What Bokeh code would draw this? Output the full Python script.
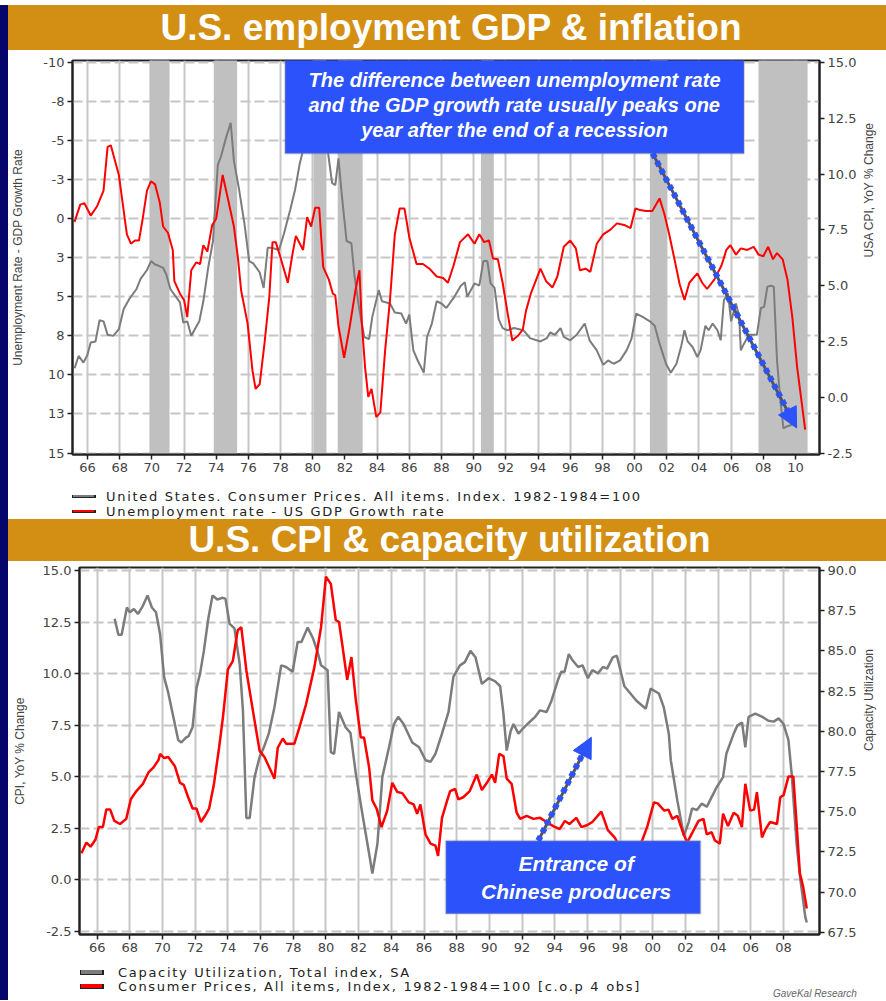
import math
from bokeh.plotting import figure
from bokeh.models import (Range1d, LinearAxis, FixedTicker, BoxAnnotation, Label,
                          Arrow, NormalHead, Div)
from bokeh.layouts import column, row
from bokeh.embed import file_html
from bokeh.resources import INLINE

# ---------------- data: top chart ----------------
recession_start = [1969.85, 1973.85, 1980.05, 1981.55, 1990.45, 2000.95, 2007.7]
recession_end = [1971.1, 1975.3, 1980.85, 1983.1, 1991.25, 2002.0, 2010.75]

gap_years = [1965.2, 1965.55, 1965.8, 1966.2, 1966.6, 1967.0, 1967.25, 1967.45, 1967.95, 1968.45,
             1968.7, 1968.95, 1969.2, 1969.4, 1969.7, 1969.95, 1970.2, 1970.5, 1970.7, 1971.0,
             1971.3, 1971.4, 1971.75, 1972.0, 1972.2, 1972.45, 1972.75, 1973.0, 1973.2, 1973.45,
             1973.75, 1974.0, 1974.4, 1974.7, 1975.1, 1975.35, 1975.55, 1975.95, 1976.25, 1976.45,
             1976.7, 1977.0, 1977.3, 1977.5, 1977.7, 1978.0, 1978.45, 1978.75, 1978.95, 1979.4,
             1979.65, 1979.9, 1980.15, 1980.4, 1980.65, 1981.0, 1981.25, 1981.4, 1981.6, 1981.95,
             1982.3, 1982.65, 1982.9, 1983.05, 1983.25, 1983.45, 1983.65, 1983.95, 1984.2, 1984.5,
             1984.8, 1985.1, 1985.4, 1985.7, 1986.0, 1986.45, 1986.85, 1987.25, 1987.7, 1988.1,
             1988.4, 1988.75, 1989.15, 1989.65, 1990.05, 1990.35, 1990.65, 1990.95, 1991.2, 1991.5,
             1991.8, 1992.1, 1992.4, 1992.75, 1993.05, 1993.25, 1993.55, 1994.15, 1994.5, 1994.9,
             1995.2, 1995.6, 1996.0, 1996.35, 1996.6, 1996.95, 1997.25, 1997.65, 1998.05, 1998.5,
             1998.9, 1999.35, 1999.75, 2000.05, 2000.35, 2000.7, 2001.1, 2001.55, 2001.85, 2002.15,
             2002.5, 2002.8, 2003.1, 2003.4, 2003.9, 2004.2, 2004.5, 2004.95, 2005.4, 2005.7,
             2005.95, 2006.3, 2006.6, 2007.0, 2007.4, 2007.7, 2008.0, 2008.3, 2008.6, 2008.85,
             2009.2, 2009.5, 2009.8, 2010.1, 2010.6]
gap_values = [0.2, -0.9, -1.0, -0.2, -0.8, -1.8, -4.6, -4.7, -2.8, 1.0,
              1.6, 1.4, 1.4, 0.2, -1.8, -2.4, -2.2, -1.0, 0.5, 0.9,
              2.0, 4.0, 4.8, 5.2, 6.3, 3.3, 2.8, 2.9, 1.7, 2.1,
              0.4, 0.0, -2.8, -1.4, 0.5, 2.5, 4.6, 6.7, 9.7, 10.9,
              10.6, 8.0, 5.0, 1.5, 1.5, 2.5, 4.1, 2.2, 1.1, 2.0,
              -0.1, 0.5, -0.7, -0.7, 3.1, 3.9, 4.8, 4.9, 6.9, 8.9,
              6.9, 4.6, 3.3, 6.7, 9.5, 11.4, 10.9, 12.7, 12.4, 8.4,
              5.2, 1.0, -0.65, -0.65, 1.2, 2.9, 2.9, 3.2, 3.7, 3.8,
              4.1, 3.0, 1.5, 1.0, 1.6, 1.0, 1.5, 1.4, 2.55, 2.6,
              4.1, 6.0, 7.8, 7.5, 7.1, 5.9, 4.8, 3.2, 4.0, 4.4,
              3.7, 1.8, 1.4, 1.9, 3.3, 3.2, 3.4, 1.6, 1.0, 0.7,
              0.3, 0.4, 0.6, -0.65, -0.55, -0.5, -0.5, -1.3, -0.3, 1.0,
              2.7, 4.2, 5.2, 4.1, 3.5, 4.1, 4.5, 3.9, 3.0, 2.0,
              1.7, 2.3, 1.9, 2.0, 1.8, 2.3, 2.4, 1.8, 2.6, 2.2,
              2.6, 3.9, 6.3, 9.5, 13.5]

cpi_top_years = [1965.2, 1965.45, 1965.75, 1966.0, 1966.2, 1966.5, 1966.75, 1967.0, 1967.25, 1967.6,
                 1967.95, 1968.25, 1968.6, 1969.05, 1969.3, 1969.7, 1969.95, 1970.2, 1970.4, 1970.7,
                 1970.9, 1971.15, 1971.4, 1971.75, 1971.95, 1972.2, 1972.45, 1972.95, 1973.2, 1973.5,
                 1973.8, 1974.1, 1974.3, 1974.6, 1974.9, 1975.1, 1975.4, 1975.75, 1976.05, 1976.3,
                 1976.7, 1976.95, 1977.2, 1977.45, 1977.9, 1978.2, 1978.6, 1978.9, 1979.2, 1979.45,
                 1979.8, 1980.2, 1980.5, 1980.85, 1981.2, 1981.4, 1981.6, 1981.8, 1982.1, 1982.4,
                 1982.6, 1982.9, 1983.2, 1983.5, 1983.7, 1984.1, 1984.3, 1984.8, 1985.1, 1985.5,
                 1985.8, 1986.0, 1986.25, 1986.55, 1986.9, 1987.1, 1987.4, 1987.7, 1988.0, 1988.3,
                 1988.8, 1989.2, 1989.45, 1989.6, 1990.05, 1990.35, 1990.6, 1990.85, 1991.05, 1991.3,
                 1991.55, 1991.8, 1992.1, 1992.5, 1993.1, 1993.5, 1994.15, 1994.55, 1994.75, 1995.05,
                 1995.4, 1995.6, 1996.0, 1996.4, 1996.9, 1997.2, 1997.65, 1998.05, 1998.35, 1998.7,
                 1999.1, 1999.5, 1999.8, 2000.1, 2000.5, 2000.95, 2001.25, 2001.55, 2001.95, 2002.25,
                 2002.6, 2002.9, 2003.1, 2003.3, 2003.6, 2003.9, 2004.1, 2004.4, 2004.6, 2004.85,
                 2005.15, 2005.35, 2005.55, 2005.8, 2006.0, 2006.3, 2006.5, 2006.6, 2006.8, 2007.1,
                 2007.6, 2007.85, 2008.05, 2008.25, 2008.45, 2008.65, 2008.85, 2009.05, 2009.25, 2009.5,
                 2009.9]
cpi_top_values = [1.3, 1.85, 1.55, 1.9, 2.45, 2.5, 3.45, 3.4, 2.8, 2.75,
                  3.05, 3.95, 4.4, 4.85, 5.3, 5.7, 6.1, 5.95, 5.9, 5.8,
                  5.5, 4.85, 4.6, 4.25, 3.35, 3.4, 2.75, 3.4, 4.3, 5.8,
                  7.0, 10.4, 10.8, 11.6, 12.3, 10.6, 9.4, 7.8, 6.1, 6.0,
                  5.6, 4.9, 6.7, 6.7, 6.6, 7.3, 8.4, 9.3, 10.5, 11.2,
                  12.8, 14.6, 13.3, 11.5, 9.6, 9.5, 10.7, 9.1, 7.0, 6.9,
                  5.4, 3.9, 2.7, 2.6, 3.6, 4.8, 4.3, 4.2, 3.8, 3.75,
                  3.3, 3.7, 2.1, 1.6, 1.1, 2.7, 3.3, 4.3, 4.2, 4.0,
                  4.5, 5.0, 5.15, 4.5, 5.1, 5.0, 6.1, 6.1, 5.1, 4.9,
                  3.5, 3.1, 3.0, 3.1, 3.0, 2.65, 2.5, 2.65, 2.9, 2.8,
                  3.1, 2.7, 2.55, 2.8, 3.3, 2.55, 2.1, 1.45, 1.65, 1.5,
                  1.65, 2.1, 2.6, 3.75, 3.6, 3.4, 3.2, 2.4, 1.5, 1.1,
                  1.5, 2.3, 3.0, 2.5, 2.25, 1.8, 2.1, 3.2, 3.0, 3.3,
                  3.0, 2.55, 4.35, 4.65, 3.4, 4.2, 3.6, 2.1, 2.4, 2.8,
                  2.8, 4.0, 4.05, 4.95, 5.0, 4.95, 1.65, -0.1, -1.4, -1.3,
                  -1.2]

# ---------------- data: bottom chart ----------------
cpi_bot_years = [1965.04, 1965.34, 1965.6, 1965.9, 1966.1, 1966.35, 1966.56, 1966.8, 1967.05, 1967.4,
                 1967.78, 1968.06, 1968.4, 1968.8, 1969.14, 1969.45, 1969.75, 1969.85, 1970.1, 1970.35,
                 1970.76, 1971.07, 1971.3, 1971.57, 1971.84, 1972.08, 1972.35, 1972.6, 1972.85, 1973.14,
                 1973.46, 1973.7, 1974.0, 1974.3, 1974.6, 1974.82, 1975.13, 1975.53, 1975.94, 1976.24,
                 1976.85, 1977.05, 1977.36, 1977.56, 1978.07, 1978.38, 1978.78, 1979.29, 1979.7, 1980.0,
                 1980.3, 1980.6, 1980.8, 1981.0, 1981.3, 1981.56, 1981.83, 1982.13, 1982.33, 1982.64,
                 1982.84, 1983.1, 1983.4, 1983.75, 1984.06, 1984.37, 1984.67, 1985.07, 1985.37, 1985.58,
                 1985.78, 1986.09, 1986.4, 1986.7, 1986.86, 1987.1, 1987.4, 1987.6, 1987.9, 1988.1,
                 1988.4, 1988.8, 1989.23, 1989.54, 1989.85, 1990.15, 1990.35, 1990.6, 1990.86, 1991.06,
                 1991.36, 1991.67, 1991.88, 1992.28, 1992.7, 1993.1, 1993.5, 1993.9, 1994.3, 1994.62,
                 1994.9, 1995.32, 1995.63, 1996.0, 1996.3, 1996.85, 1997.25, 1997.66, 1998.0, 1998.4,
                 1998.8, 1999.1, 1999.35, 1999.67, 2000.07, 2000.3, 2000.7, 2000.95, 2001.2, 2001.5,
                 2001.84, 2002.1, 2002.5, 2002.8, 2003.1, 2003.3, 2003.6, 2003.8, 2004.1, 2004.3,
                 2004.6, 2004.95, 2005.2, 2005.45, 2005.66, 2005.96, 2006.2, 2006.37, 2006.68, 2006.9,
                 2007.18, 2007.6, 2007.8, 2008.0, 2008.3, 2008.6, 2008.8, 2009.0, 2009.2, 2009.42]
cpi_bot_values = [1.28, 1.8, 1.6, 1.95, 2.55, 2.55, 3.4, 3.4, 2.85, 2.7,
                  2.95, 3.9, 4.3, 4.65, 5.2, 5.45, 5.8, 6.1, 5.9, 5.95,
                  5.5, 4.7, 4.6, 4.0, 3.45, 3.45, 2.8, 3.1, 3.45, 4.6,
                  6.4, 7.9, 10.2, 10.6, 12.1, 12.25, 10.15, 8.2, 6.25, 5.95,
                  4.9, 6.4, 6.85, 6.6, 6.6, 7.4, 8.5, 10.3, 12.25, 14.7,
                  14.35, 12.6, 12.5, 11.4, 9.7, 10.8, 8.7, 6.9, 6.9, 5.45,
                  3.85, 3.45, 2.55, 3.35, 4.7, 4.25, 4.2, 3.75, 3.65, 3.2,
                  3.65, 2.2, 1.75, 1.65, 1.15, 3.0, 3.8, 4.3, 4.4, 3.9,
                  4.0, 4.3, 5.1, 4.35, 4.7, 5.1, 4.7, 6.1, 6.0, 4.9,
                  4.65, 3.25, 2.95, 3.1, 2.95, 3.0, 2.8, 2.6, 2.45, 2.85,
                  2.7, 3.0, 2.55, 2.65, 2.8, 3.3, 2.4, 2.05, 1.6, 1.55,
                  1.6, 1.7, 1.9, 2.6, 3.75, 3.7, 3.35, 3.4, 2.95, 3.1,
                  2.3, 1.8, 2.4, 2.85, 2.95, 2.2, 2.3, 1.9, 1.75, 3.2,
                  2.6, 3.25, 3.1, 2.55, 4.65, 3.35, 3.4, 4.25, 2.05, 2.45,
                  2.8, 2.7, 4.0, 4.1, 5.0, 5.0, 2.7, 0.3, -0.35, -1.4]

cu_years = [1967.07, 1967.3, 1967.5, 1967.82, 1968.0, 1968.25, 1968.5, 1968.8, 1969.08, 1969.35,
            1969.6, 1969.85, 1970.1, 1970.35, 1970.66, 1970.96, 1971.15, 1971.43, 1971.6, 1971.84,
            1972.08, 1972.3, 1972.53, 1972.8, 1973.06, 1973.35, 1973.65, 1973.85, 1974.1, 1974.4,
            1974.72, 1974.92, 1975.13, 1975.33, 1975.63, 1975.94, 1976.2, 1976.5, 1976.85, 1977.26,
            1977.56, 1977.96, 1978.27, 1978.5, 1978.88, 1979.2, 1979.5, 1979.7, 1980.1, 1980.3,
            1980.5, 1980.8, 1981.2, 1981.5, 1981.83, 1982.23, 1982.64, 1982.84, 1983.15, 1983.45,
            1983.86, 1984.16, 1984.42, 1984.75, 1985.28, 1985.7, 1986.1, 1986.4, 1986.7, 1987.1,
            1987.5, 1987.8, 1988.2, 1988.5, 1988.84, 1989.15, 1989.54, 1989.95, 1990.36, 1990.66,
            1990.86, 1991.06, 1991.3, 1991.47, 1991.78, 1992.08, 1992.38, 1992.8, 1993.1, 1993.5,
            1993.8, 1994.2, 1994.4, 1994.6, 1994.86, 1995.1, 1995.43, 1995.7, 1996.03, 1996.3,
            1996.64, 1996.95, 1997.2, 1997.55, 1997.8, 1998.26, 1998.67, 1999.0, 1999.57, 1999.87,
            2000.37, 2000.67, 2000.98, 2001.1, 2001.5, 2001.9, 2002.2, 2002.4, 2002.7, 2003.0,
            2003.3, 2003.6, 2003.9, 2004.3, 2004.5, 2004.95, 2005.17, 2005.46, 2005.66, 2005.86,
            2006.27, 2006.7, 2007.07, 2007.4, 2007.7, 2008.0, 2008.3, 2008.5, 2008.8, 2009.0,
            2009.33, 2009.42]
cu_values = [87.0, 86.0, 86.0, 87.7, 87.4, 87.6, 87.3, 87.8, 88.45, 87.7,
             87.4, 86.05, 83.35, 82.4, 80.9, 79.45, 79.3, 79.6, 79.7, 80.25,
             82.7, 83.6, 85.0, 87.0, 88.45, 88.2, 88.3, 88.25, 86.7, 86.4,
             84.2, 81.3, 74.6, 74.6, 77.15, 78.4, 79.0, 79.85, 81.5, 84.1,
             84.0, 83.7, 85.55, 85.55, 86.45, 85.8, 84.9, 84.1, 83.8, 78.7,
             78.6, 81.2, 80.25, 79.9, 77.35, 74.85, 72.4, 71.15, 73.0, 77.15,
             79.0, 80.45, 80.9, 80.45, 79.3, 79.0, 78.2, 78.1, 78.6, 79.85,
             81.2, 83.4, 84.1, 84.3, 85.0, 84.6, 82.95, 83.3, 83.1, 82.8,
             81.1, 78.8, 80.0, 80.45, 79.85, 80.2, 80.5, 80.9, 81.3, 81.2,
             81.9, 83.2, 83.7, 83.7, 84.8, 84.4, 84.0, 84.1, 83.3, 83.8,
             83.6, 84.0, 83.9, 84.6, 84.7, 82.8, 82.3, 81.9, 81.4, 82.65,
             82.35, 81.5, 79.85, 78.2, 75.7, 73.5, 74.35, 75.2, 75.1, 75.5,
             75.3, 75.9, 76.5, 77.15, 78.6, 79.85, 80.35, 80.55, 79.0, 80.9,
             81.1, 80.9, 80.65, 80.6, 80.8, 80.45, 79.45, 77.3, 73.0, 71.0,
             68.45, 68.1]

# ---------------- tick labels ----------------
top_x_ticks = list(range(1966, 2011, 2))
bot_x_ticks = list(range(1966, 2009, 2))
top_left_ticks = [-10, -7.5, -5, -2.5, 0, 2.5, 5, 7.5, 10, 12.5, 15]
top_left_labels = ["-10", "-8", "-5", "-3", "0", "3", "5", "8", "10", "13", "15"]
top_right_ticks = [-2.5, 0, 2.5, 5, 7.5, 10, 12.5, 15]
bot_left_ticks = [-2.5, 0, 2.5, 5, 7.5, 10, 12.5, 15]
bot_right_ticks = [67.5, 70, 72.5, 75, 77.5, 80, 82.5, 85, 87.5, 90]

TICK_FONT = "DejaVu Sans"
LABEL_FONT = "Liberation Sans"
GRID = "#c6c6c6"
AXIS = "#222222"
BLUE = "#2b52fb"
GRAYLINE = "#7c7c7c"
RED = "#ff0000"
NAVY = "#05056b"
W = 878


def style_axis(ax, ticks, labels):
    ax.ticker = FixedTicker(ticks=ticks)
    ax.major_label_overrides = {t: l for t, l in zip(ticks, labels)}
    ax.major_label_text_font = TICK_FONT
    ax.major_label_text_font_size = "13px"
    ax.major_label_text_color = "#444444"
    ax.major_tick_out = 5
    ax.major_tick_in = 0
    ax.minor_tick_out = 0
    ax.minor_tick_in = 0
    ax.major_tick_line_color = AXIS
    ax.major_tick_line_width = 1.5
    ax.axis_line_color = AXIS
    ax.axis_line_width = 2
    ax.major_label_standoff = 3
    ax.axis_label_text_font = LABEL_FONT
    ax.axis_label_text_font_size = "12px"
    ax.axis_label_text_font_style = "normal"
    ax.axis_label_text_color = "#444444"


def bottom_to_top_label(ax):
    # right-hand axis label reading upward, as in the reference
    try:
        ax.axis_label_orientation = math.pi / 2
    except Exception:
        pass


def make_fig(h, xr, yr, bl, br, bt, bb):
    p = figure(width=W, height=h, x_range=xr, y_range=yr, output_backend="svg",
               toolbar_location=None, min_border_left=bl, min_border_right=br,
               min_border_top=bt, min_border_bottom=bb, background_fill_color="white",
               border_fill_color="white", outline_line_color=AXIS, outline_line_width=2)
    try:
        p.frame_align = False
    except Exception:
        pass
    p.xgrid.grid_line_color = GRID
    p.xgrid.grid_line_width = 2
    p.ygrid.grid_line_color = GRID
    p.ygrid.grid_line_width = 2
    p.ygrid.grid_line_dash = "10 4"
    return p


# ================= top figure =================
p1 = make_fig(428, Range1d(1965.07, 2011.49), Range1d(15.096, -10.128), 64, 62, 10, 24)
p1.extra_y_ranges = {"cpi": Range1d(-2.567, 15.09)}
style_axis(p1.xaxis[0], top_x_ticks, ["%02d" % (y % 100) for y in top_x_ticks])
style_axis(p1.yaxis[0], top_left_ticks, top_left_labels)
p1.yaxis[0].axis_label = "Unemployment Rate - GDP Growth Rate"
p1.yaxis[0].axis_label_standoff = 15
p1.xgrid.ticker = FixedTicker(ticks=top_x_ticks)
p1.ygrid.ticker = FixedTicker(ticks=top_left_ticks)

ax_r1 = LinearAxis(y_range_name="cpi")
style_axis(ax_r1, top_right_ticks, ["%.1f" % t for t in top_right_ticks])
ax_r1.axis_label = "USA CPI, YoY % Change"
ax_r1.axis_label_standoff = 10
bottom_to_top_label(ax_r1)
p1.add_layout(ax_r1, "right")

p1.quad(left=recession_start, right=recession_end, bottom=16, top=-11,
        fill_color="#c0c0c0", line_color=None)
p1.line(cpi_top_years, cpi_top_values, y_range_name="cpi", line_color=GRAYLINE, line_width=2)
p1.line(gap_years, gap_values, line_color=RED, line_width=2)

p1.add_layout(BoxAnnotation(left=1978.28, right=2006.8, top=-10.45, bottom=-4.18,
                            fill_color=BLUE, fill_alpha=1, line_color="#808080", line_width=2))
for txt, yy in zip(["The difference between unemployment rate",
                    "and the GDP growth rate usually peaks one",
                    "year after the end of a recession"], [-8.91, -7.28, -5.65]):
    p1.add_layout(Label(x=1992.54, y=yy, text=txt, text_align="center", text_baseline="middle",
                        text_color="white", text_font=LABEL_FONT, text_font_size="20px",
                        text_font_style="bold italic"))
p1.add_layout(Arrow(end=None, x_start=2001.12, y_start=-4.18, x_end=2009.9, y_end=13.1,
                    line_color="#555555", line_width=3))
p1.add_layout(Arrow(end=NormalHead(size=20, fill_color=BLUE, line_color=BLUE),
                    x_start=2001.12, y_start=-4.18, x_end=2010.07, y_end=13.4,
                    line_color=BLUE, line_width=6, line_dash="5 4"))

# ================= bottom figure =================
p2 = make_fig(395, Range1d(1964.92, 2010.2), Range1d(-2.66, 15.146), 71, 63, 6, 22)
p2.extra_y_ranges = {"cu": Range1d(67.357, 90.187)}
style_axis(p2.xaxis[0], bot_x_ticks, ["%02d" % (y % 100) for y in bot_x_ticks])
style_axis(p2.yaxis[0], bot_left_ticks, ["%.1f" % t for t in bot_left_ticks])
p2.yaxis[0].axis_label = "CPI, YoY % Change"
p2.yaxis[0].axis_label_standoff = 13
p2.xgrid.ticker = FixedTicker(ticks=bot_x_ticks)
p2.ygrid.ticker = FixedTicker(ticks=bot_left_ticks)

ax_r2 = LinearAxis(y_range_name="cu")
style_axis(ax_r2, bot_right_ticks, ["%.1f" % t for t in bot_right_ticks])
ax_r2.axis_label = "Capacity Utilization"
ax_r2.axis_label_standoff = 10
bottom_to_top_label(ax_r2)
p2.add_layout(ax_r2, "right")

p2.line(cu_years, cu_values, y_range_name="cu", line_color=GRAYLINE, line_width=2.5)
p2.line(cpi_bot_years, cpi_bot_values, line_color=RED, line_width=2.5)

p2.add_layout(BoxAnnotation(left=1987.33, right=2002.92, top=1.893, bottom=-1.65,
                            fill_color=BLUE, fill_alpha=1, line_color="#9a9a9a", line_width=2))
for txt, yy in zip(["Entrance of", "Chinese producers"], [0.777, -0.583]):
    p2.add_layout(Label(x=1995.31, y=yy, text=txt, text_align="center", text_baseline="middle",
                        text_color="white", text_font=LABEL_FONT, text_font_size="21px",
                        text_font_style="bold italic"))
p2.add_layout(Arrow(end=None, x_start=1992.99, y_start=1.89, x_end=1996.05, y_end=6.6,
                    line_color="#555555", line_width=3))
p2.add_layout(Arrow(end=NormalHead(size=20, fill_color=BLUE, line_color=BLUE),
                    x_start=1992.99, y_start=1.89, x_end=1996.24, y_end=6.91,
                    line_color=BLUE, line_width=6, line_dash="5 4"))


# ================= title bars, legends and frame strips =================
def title_div(text, h, pad):
    html = ('<div style="width:%dpx;height:%dpx;background:#d38f14;color:#ffffff;'
            'font-family:\'Liberation Sans\',Arial,sans-serif;font-weight:bold;font-size:37px;'
            'line-height:%dpx;text-align:center;padding-left:%dpx;box-sizing:border-box;'
            'white-space:nowrap;overflow:hidden;">%s</div>') % (W, h, h, pad, text)
    return Div(text=html, width=W, height=h, margin=(0, 0, 0, 0))


def legend_div(rows, h, sym_left, text_left, tops, extra=""):
    parts = ['<div style="position:relative;width:%dpx;height:%dpx;overflow:hidden;'
             'background:#ffffff;font-family:\'DejaVu Sans\',sans-serif;font-size:13px;'
             'color:#222222;">' % (W, h)]
    for (label, color, thick), top in zip(rows, tops):
        parts.append('<div style="position:absolute;left:%dpx;top:%dpx;width:24px;height:%dpx;'
                     'background:%s;border-right:2px solid #222;border-bottom:1px solid #222;'
                     'border-left:1px solid #222;"></div>'
                     % (sym_left, top + 6 - thick // 2, thick, color))
        parts.append('<div style="position:absolute;left:%dpx;top:%dpx;line-height:13px;'
                     'letter-spacing:1.7px;white-space:nowrap;">%s</div>' % (text_left, top, label))
    parts.append(extra)
    parts.append('</div>')
    return Div(text="".join(parts), width=W, height=h, margin=(0, 0, 0, 0))


def strip(w, h):
    return Div(text='<div style="width:%dpx;height:%dpx;background:%s;"></div>' % (w, h, NAVY),
               width=w, height=h, margin=(0, 0, 0, 0))


t1 = title_div("U.S. employment GDP &amp; inflation", 45, 8)
leg1 = legend_div([("United States. Consumer Prices. All items. Index. 1982-1984=100", GRAYLINE, 3),
                   ("Unemployment rate - US GDP Growth rate", RED, 3)],
                  41, 64, 98, [12, 27])
t2 = title_div("U.S. CPI &amp; capacity utilization", 42, 5)
gk = ('<div style="position:absolute;left:765px;top:31px;font-size:10px;font-style:italic;'
      'color:#666;font-family:\'Liberation Sans\',sans-serif;white-space:nowrap;">GaveKal Research</div>')
leg2 = legend_div([("Capacity Utilization, Total index, SA", GRAYLINE, 5),
                   ("Consumer Prices, All items, Index, 1982-1984=100 [c.o.p 4 obs]", RED, 5)],
                  44, 72, 110, [10, 24], gk)

content = column(t1, p1, leg1, t2, p2, leg2, spacing=0)
layout = column(strip(886, 5), row(strip(8, 995), content, spacing=0), spacing=0)
open("out.html", "w").write(file_html(layout, INLINE))
